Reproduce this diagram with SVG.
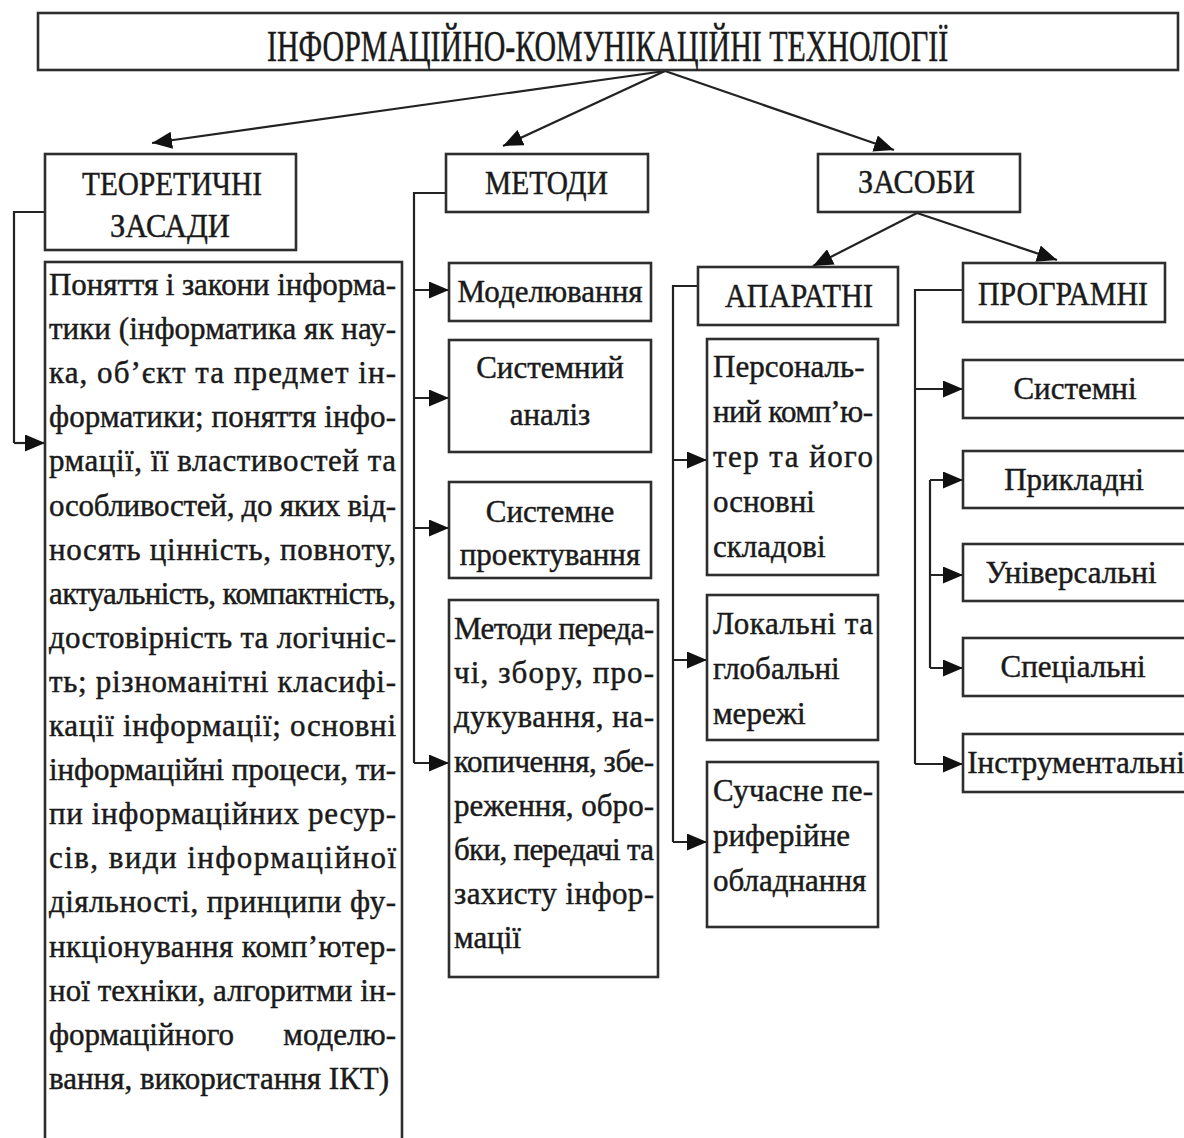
<svg xmlns="http://www.w3.org/2000/svg" width="1184" height="1138" viewBox="0 0 1184 1138">
<defs>
<marker id="arr" markerUnits="userSpaceOnUse" markerWidth="20" markerHeight="17" refX="20" refY="8.5" orient="auto">
<path d="M0,0 L20,8.5 L0,17 z" fill="#111"/>
</marker>
<style>
.box{fill:#fff;stroke:#2e2e2e;stroke-width:2.6}
.ln{fill:none;stroke:#222;stroke-width:2.2}
.ar{fill:none;stroke:#222;stroke-width:2.2;marker-end:url(#arr)}
text{font-family:"Liberation Serif","Times New Roman",serif;fill:#1a1a1a;stroke:#1a1a1a;stroke-width:0.45}
.cap{font-size:34px}
.t{font-size:31px}
.c{text-anchor:middle}
</style>
</defs>
<rect width="1184" height="1138" fill="#fff"/>

<g id="connectors">
<line class="ar" x1="665" y1="71" x2="152" y2="143"/>
<line class="ar" x1="665" y1="71" x2="503" y2="146"/>
<line class="ar" x1="665" y1="71" x2="894" y2="150"/>
<line class="ar" x1="917" y1="213" x2="813" y2="266"/>
<line class="ar" x1="917" y1="213" x2="1057" y2="260"/>
<polyline class="ln" points="45,212 14,212 14,443"/>
<line class="ar" x1="14" y1="443" x2="45" y2="443"/>
<polyline class="ln" points="446,193 414,193 414,763"/>
<line class="ar" x1="414" y1="290" x2="449" y2="290"/>
<line class="ar" x1="414" y1="398" x2="449" y2="398"/>
<line class="ar" x1="414" y1="528" x2="449" y2="528"/>
<line class="ar" x1="414" y1="763" x2="449" y2="763"/>
<polyline class="ln" points="698,286 673,286 673,842"/>
<line class="ar" x1="673" y1="460" x2="707" y2="460"/>
<line class="ar" x1="673" y1="660" x2="707" y2="660"/>
<line class="ar" x1="673" y1="842" x2="707" y2="842"/>
<polyline class="ln" points="963,290 915,290 915,764"/>
<line class="ar" x1="915" y1="389" x2="963" y2="389"/>
<line class="ar" x1="915" y1="764" x2="963" y2="764"/>
<polyline class="ln" points="930,668 930,480"/>
<line class="ar" x1="930" y1="480" x2="963" y2="480"/>
<line class="ar" x1="930" y1="575" x2="963" y2="575"/>
<line class="ar" x1="930" y1="668" x2="963" y2="668"/>
</g>

<g id="n-title">
<rect class="box" x="38" y="13" width="1140" height="57"/>
<text transform="translate(267,61) scale(0.66,1)" x="0" y="0" font-size="44" textLength="1032" lengthAdjust="spacingAndGlyphs">ІНФОРМАЦІЙНО-КОМУНІКАЦІЙНІ ТЕХНОЛОГІЇ</text>
</g>

<g id="n-theory">
<rect class="box" x="45" y="154" width="251" height="96"/>
<text class="cap" x="82" y="195" textLength="180" lengthAdjust="spacingAndGlyphs">ТЕОРЕТИЧНІ</text>
<text class="cap" x="110" y="237" textLength="120" lengthAdjust="spacingAndGlyphs">ЗАСАДИ</text>
</g>

<g id="n-methods">
<rect class="box" x="446" y="154" width="202" height="58"/>
<text class="cap" x="485" y="194" textLength="123" lengthAdjust="spacingAndGlyphs">МЕТОДИ</text>
</g>

<g id="n-means">
<rect class="box" x="818" y="154" width="202" height="58"/>
<text class="cap" x="858" y="193" textLength="117" lengthAdjust="spacingAndGlyphs">ЗАСОБИ</text>
</g>

<g id="n-theory-content">
<rect class="box" x="45" y="262" width="357" height="900"/>
<g class="t">
<text x="49" y="295" textLength="347" lengthAdjust="spacing">Поняття і закони інформа-</text>
<text x="49" y="339.1" textLength="347" lengthAdjust="spacing">тики (інформатика як нау-</text>
<text x="49" y="383.2" textLength="347" lengthAdjust="spacing">ка, об’єкт та предмет ін-</text>
<text x="49" y="427.3" textLength="347" lengthAdjust="spacing">форматики; поняття інфо-</text>
<text x="49" y="471.4" textLength="347" lengthAdjust="spacing">рмації, її властивостей та</text>
<text x="49" y="515.5" textLength="347" lengthAdjust="spacing">особливостей, до яких від-</text>
<text x="49" y="559.6" textLength="347" lengthAdjust="spacing">носять цінність, повноту,</text>
<text x="49" y="603.7" textLength="347" lengthAdjust="spacing">актуальність, компактність,</text>
<text x="49" y="647.8" textLength="347" lengthAdjust="spacing">достовірність та логічніс-</text>
<text x="49" y="691.9" textLength="347" lengthAdjust="spacing">ть; різноманітні класифі-</text>
<text x="49" y="736" textLength="347" lengthAdjust="spacing">кації інформації; основні</text>
<text x="49" y="780.1" textLength="347" lengthAdjust="spacing">інформаційні процеси, ти-</text>
<text x="49" y="824.2" textLength="347" lengthAdjust="spacing">пи інформаційних ресур-</text>
<text x="49" y="868.3" textLength="347" lengthAdjust="spacing">сів, види інформаційної</text>
<text x="49" y="912.4" textLength="347" lengthAdjust="spacing">діяльності, принципи фу-</text>
<text x="49" y="956.5" textLength="347" lengthAdjust="spacing">нкціонування комп’ютер-</text>
<text x="49" y="1000.6" textLength="347" lengthAdjust="spacing">ної техніки, алгоритми ін-</text>
<text x="49" y="1044.7">формаційного</text>
<text x="396" y="1044.7" text-anchor="end">моделю-</text>
<text x="49" y="1088.8">вання, використання ІКТ)</text>
</g>
</g>

<g id="n-modeling">
<rect class="box" x="449" y="263" width="202" height="58"/>
<text class="t c" x="550" y="302">Моделювання</text>
</g>

<g id="n-sysanalysis">
<rect class="box" x="449" y="340" width="202" height="112"/>
<text class="t c" x="550" y="378">Системний</text>
<text class="t c" x="550" y="425">аналіз</text>
</g>

<g id="n-sysdesign">
<rect class="box" x="449" y="482" width="202" height="96"/>
<text class="t c" x="550" y="522">Системне</text>
<text class="t c" x="550" y="565">проектування</text>
</g>

<g id="n-methods-transfer">
<rect class="box" x="449" y="600" width="209" height="377"/>
<g class="t">
<text x="454" y="639" textLength="200" lengthAdjust="spacing">Методи переда-</text>
<text x="454" y="683.2" textLength="200" lengthAdjust="spacing">чі, збору, про-</text>
<text x="454" y="727.4" textLength="200" lengthAdjust="spacing">дукування, на-</text>
<text x="454" y="771.6" textLength="200" lengthAdjust="spacing">копичення, збе-</text>
<text x="454" y="815.8" textLength="200" lengthAdjust="spacing">реження, обро-</text>
<text x="454" y="860" textLength="200" lengthAdjust="spacing">бки, передачі та</text>
<text x="454" y="904.2" textLength="200" lengthAdjust="spacing">захисту інфор-</text>
<text x="454" y="948.4">мації</text>
</g>
</g>

<g id="n-hardware">
<rect class="box" x="698" y="267" width="200" height="58"/>
<text class="cap" x="725" y="307" textLength="148" lengthAdjust="spacingAndGlyphs">АПАРАТНІ</text>
</g>

<g id="n-software">
<rect class="box" x="963" y="263" width="202" height="59"/>
<text class="cap" x="978" y="305" textLength="170" lengthAdjust="spacingAndGlyphs">ПРОГРАМНІ</text>
</g>

<g id="n-pc">
<rect class="box" x="707" y="339" width="171" height="236"/>
<g class="t">
<text x="713" y="377">Персональ-</text>
<text x="713" y="422" textLength="160" lengthAdjust="spacing">ний комп’ю-</text>
<text x="713" y="467" textLength="160" lengthAdjust="spacing">тер та його</text>
<text x="713" y="512">основні</text>
<text x="713" y="557">складові</text>
</g>
</g>

<g id="n-networks">
<rect class="box" x="707" y="595" width="171" height="145"/>
<g class="t">
<text x="713" y="634" textLength="160" lengthAdjust="spacing">Локальні та</text>
<text x="713" y="679">глобальні</text>
<text x="713" y="724">мережі</text>
</g>
</g>

<g id="n-peripherals">
<rect class="box" x="707" y="762" width="171" height="165"/>
<g class="t">
<text x="713" y="801" textLength="160" lengthAdjust="spacing">Сучасне пе-</text>
<text x="713" y="846">риферійне</text>
<text x="713" y="891">обладнання</text>
</g>
</g>

<g id="n-system">
<rect class="box" x="963" y="360" width="230" height="58"/>
<text class="t c" x="1075" y="399">Системні</text>
</g>

<g id="n-applied">
<rect class="box" x="963" y="451" width="230" height="57"/>
<text class="t c" x="1074" y="490">Прикладні</text>
</g>

<g id="n-universal">
<rect class="box" x="963" y="544" width="230" height="57"/>
<text class="t c" x="1071" y="583">Універсальні</text>
</g>

<g id="n-special">
<rect class="box" x="963" y="638" width="230" height="58"/>
<text class="t c" x="1073" y="677">Спеціальні</text>
</g>

<g id="n-instrumental">
<rect class="box" x="963" y="734" width="230" height="58"/>
<text class="t c" x="1076" y="773">Інструментальні</text>
</g>
</svg>
